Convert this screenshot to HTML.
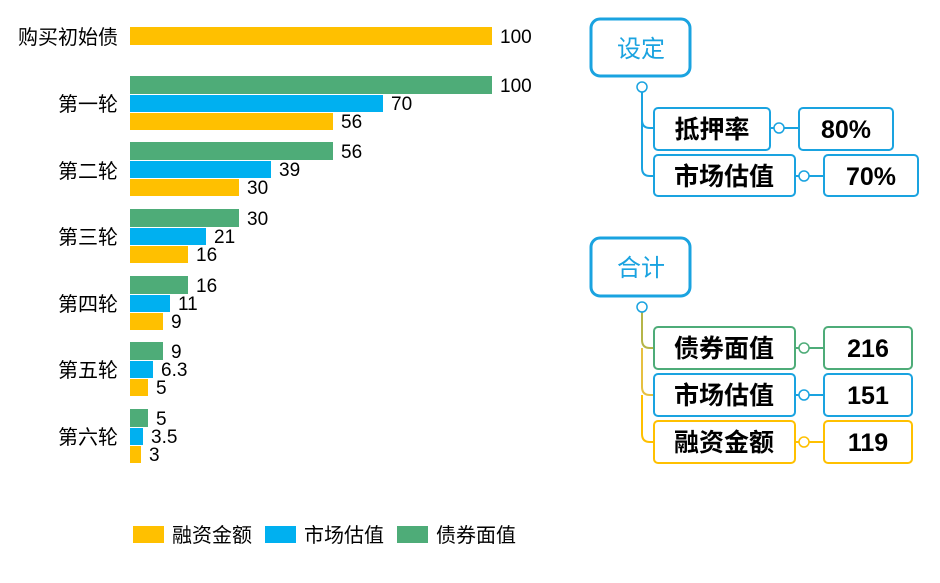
<!DOCTYPE html>
<html><head><meta charset="utf-8"><style>
body{margin:0;background:#fff;width:940px;height:578px;overflow:hidden}
svg{font-family:"Liberation Sans","Noto Sans CJK SC",sans-serif}
</style></head><body>
<svg width="940" height="578" viewBox="0 0 940 578">
<g font-size="19" fill="#000">
<rect x="130" y="27" width="362" height="18" fill="#FFC000"/>
<text x="500" y="43">100</text>
<text x="118" y="44" text-anchor="end" font-size="20">购买初始债</text>
</g>
<g font-size="20">
<rect x="133" y="526" width="31" height="17" fill="#FFC000"/><text x="172" y="542">融资金额</text>
<rect x="265" y="526" width="31" height="17" fill="#00B0F0"/><text x="304" y="542">市场估值</text>
<rect x="397" y="526" width="31" height="17" fill="#4EAC78"/><text x="436" y="542">债券面值</text>
</g>
<g fill="none" stroke-width="2">
<rect x="591" y="19" width="99" height="57" rx="9" stroke="#1AA3E0" stroke-width="3"/>
<path d="M642 92 V120 Q642 128 650 128 H654 M642 120 V168 Q642 176 650 176 H654" stroke="#1AA3E0"/>
<circle cx="642" cy="87" r="5" stroke="#1AA3E0" stroke-width="1.5" fill="#fff"/>
<rect x="654" y="108" width="116" height="42" rx="4" stroke="#1AA3E0"/>
<path d="M770 128 H799 M795 176 H824" stroke="#1AA3E0"/>
<circle cx="779" cy="128" r="5" stroke="#1AA3E0" stroke-width="1.5" fill="#fff"/>
<rect x="799" y="108" width="94" height="42" rx="4" stroke="#1AA3E0"/>
<rect x="654" y="155" width="141" height="41" rx="4" stroke="#1AA3E0"/>
<circle cx="804" cy="176" r="5" stroke="#1AA3E0" stroke-width="1.5" fill="#fff"/>
<rect x="824" y="155" width="94" height="41" rx="4" stroke="#1AA3E0"/>
</g>
<g fill="none" stroke-width="2">
<rect x="591" y="238" width="99" height="58" rx="9" stroke="#1AA3E0" stroke-width="3"/>
<path d="M642 312 V340 Q642 348 650 348 H654" stroke="#B5B548"/>
<path d="M642 348 V387 Q642 395 650 395 H654" stroke="#E6C040"/>
<path d="M642 395 V434 Q642 442 650 442 H654" stroke="#FFC000"/>
<circle cx="642" cy="307" r="5" stroke="#1AA3E0" stroke-width="1.5" fill="#fff"/>
<rect x="654" y="327" width="141" height="42" rx="4" stroke="#4EAC78"/>
<path d="M795 348 H824" stroke="#4EAC78"/>
<circle cx="804" cy="348" r="5" stroke="#4EAC78" stroke-width="1.5" fill="#fff"/>
<rect x="824" y="327" width="88" height="42" rx="4" stroke="#4EAC78"/>
<rect x="654" y="374" width="141" height="42" rx="4" stroke="#1AA3E0"/>
<path d="M795 395 H824" stroke="#1AA3E0"/>
<circle cx="804" cy="395" r="5" stroke="#1AA3E0" stroke-width="1.5" fill="#fff"/>
<rect x="824" y="374" width="88" height="42" rx="4" stroke="#1AA3E0"/>
<rect x="654" y="421" width="141" height="42" rx="4" stroke="#FFC000"/>
<path d="M795 442 H824" stroke="#FFC000"/>
<circle cx="804" cy="442" r="5" stroke="#FFC000" stroke-width="1.5" fill="#fff"/>
<rect x="824" y="421" width="88" height="42" rx="4" stroke="#FFC000"/>
</g>
<g fill="#1AA3E0" font-size="24" text-anchor="middle">
<text x="641" y="57">设定</text><text x="641" y="276">合计</text>
</g>
<g fill="#000" font-size="25" font-weight="bold" text-anchor="middle">
<text x="712" y="138">抵押率</text><text x="846" y="138">80%</text>
<text x="724" y="185">市场估值</text><text x="871" y="185">70%</text>
<text x="724" y="357">债券面值</text><text x="868" y="357">216</text>
<text x="724" y="404">市场估值</text><text x="868" y="404">151</text>
<text x="724" y="451">融资金额</text><text x="868" y="451">119</text>
</g>
<g font-size="20" fill="#000">
<text x="118" y="111" text-anchor="end">第一轮</text>
<text x="118" y="178" text-anchor="end">第二轮</text>
<text x="118" y="244" text-anchor="end">第三轮</text>
<text x="118" y="311" text-anchor="end">第四轮</text>
<text x="118" y="377" text-anchor="end">第五轮</text>
<text x="118" y="444" text-anchor="end">第六轮</text>
</g>
<g font-size="19" fill="#000">
<rect x="130" y="76" width="362" height="18" fill="#4EAC78"/><text x="500" y="92">100</text>
<rect x="130" y="95" width="253" height="17" fill="#00B0F0"/><text x="391" y="110">70</text>
<rect x="130" y="113" width="203" height="17" fill="#FFC000"/><text x="341" y="128">56</text>
<rect x="130" y="142" width="203" height="18" fill="#4EAC78"/><text x="341" y="158">56</text>
<rect x="130" y="161" width="141" height="17" fill="#00B0F0"/><text x="279" y="176">39</text>
<rect x="130" y="179" width="109" height="17" fill="#FFC000"/><text x="247" y="194">30</text>
<rect x="130" y="209" width="109" height="18" fill="#4EAC78"/><text x="247" y="225">30</text>
<rect x="130" y="228" width="76" height="17" fill="#00B0F0"/><text x="214" y="243">21</text>
<rect x="130" y="246" width="58" height="17" fill="#FFC000"/><text x="196" y="261">16</text>
<rect x="130" y="276" width="58" height="18" fill="#4EAC78"/><text x="196" y="292">16</text>
<rect x="130" y="295" width="40" height="17" fill="#00B0F0"/><text x="178" y="310">11</text>
<rect x="130" y="313" width="33" height="17" fill="#FFC000"/><text x="171" y="328">9</text>
<rect x="130" y="342" width="33" height="18" fill="#4EAC78"/><text x="171" y="358">9</text>
<rect x="130" y="361" width="23" height="17" fill="#00B0F0"/><text x="161" y="376">6.3</text>
<rect x="130" y="379" width="18" height="17" fill="#FFC000"/><text x="156" y="394">5</text>
<rect x="130" y="409" width="18" height="18" fill="#4EAC78"/><text x="156" y="425">5</text>
<rect x="130" y="428" width="13" height="17" fill="#00B0F0"/><text x="151" y="443">3.5</text>
<rect x="130" y="446" width="11" height="17" fill="#FFC000"/><text x="149" y="461">3</text>
</g>
</svg>
</body></html>
